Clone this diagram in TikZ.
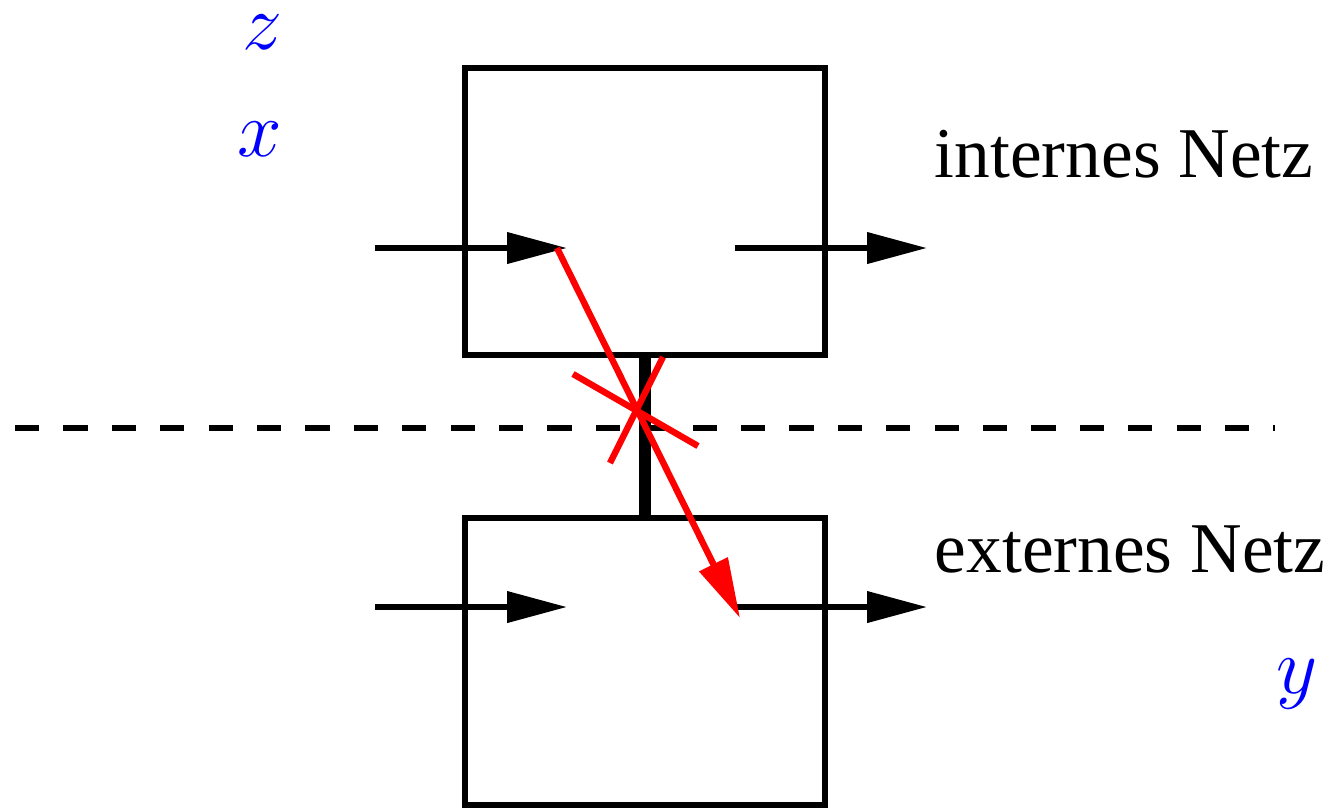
\RequirePackage{fix-cm}
\documentclass[tikz,border=0pt]{standalone}
\usepackage{fontspec}
\setmainfont{Liberation Serif}
\usetikzlibrary{arrows.meta}
\begin{document}
\begin{tikzpicture}[x=0.25pt,y=-0.25pt,
  netbox/.style={draw=black,line width=1.5pt,minimum width=90pt,minimum height=71.75pt,inner sep=0pt},
  flow/.style={line width=1.5pt,-{Triangle[length=15pt,width=7.6pt]}},
  redflow/.style={draw=red,line width=1.6pt,-{Triangle[length=15pt,width=7.6pt]}},
  cross/.style={draw=red,line width=1.6pt},
  link/.style={line width=3pt},
  border/.style={line width=1.5pt,dash pattern=on 6.05pt off 6.05pt},
  lbl/.style={inner sep=0pt,anchor=base west,font=\fontsize{17.85}{21}\selectfont},
  var/.style={inner sep=0pt,text=blue,font=\fontsize{20}{24}\selectfont}]
\useasboundingbox (0,0) rectangle (1334,807);
% boxes
\node[netbox] (top) at (645,211.5) {};
\node[netbox] (bot) at (645,661.5) {};
% link between boxes
\draw[link] (top.south) -- (bot.north);
% dashed border
\coordinate (dl) at (15,428);
\coordinate (dr) at (1275,428);
\draw[border] (dl) -- (dr);
% flow arrows
\coordinate (a1) at (375,248); \coordinate (a2) at (567,248);
\coordinate (b1) at (735,248); \coordinate (b2) at (927,248);
\coordinate (c1) at (375,607); \coordinate (c2) at (567,607);
\coordinate (d1) at (737,607); \coordinate (d2) at (927,607);
\draw[flow] (a1) -- (a2);
\draw[flow] (b1) -- (b2);
\draw[flow] (c1) -- (c2);
\draw[flow] (d1) -- (d2);
% red crossing arrow
\coordinate (r1) at (557,248);
\coordinate (r2) at (740,618);
\draw[redflow] (r1) -- (r2);
% red X
\coordinate (x1) at (573,374); \coordinate (x2) at (698,446);
\coordinate (x3) at (663,357); \coordinate (x4) at (610,463);
\draw[cross] (x1) -- (x2);
\draw[cross] (x3) -- (x4);
% labels
\node[lbl] (intern) at (934,177) {internes Netz};
\node[lbl] (extern) at (934,572) {externes Netz};
\node[var] (vz) at (262,32) {$z$};
\node[var] (vx) at (260,139) {$x$};
\node[var] (vy) at (1297,684) {$y$};
\end{tikzpicture}
\end{document}
